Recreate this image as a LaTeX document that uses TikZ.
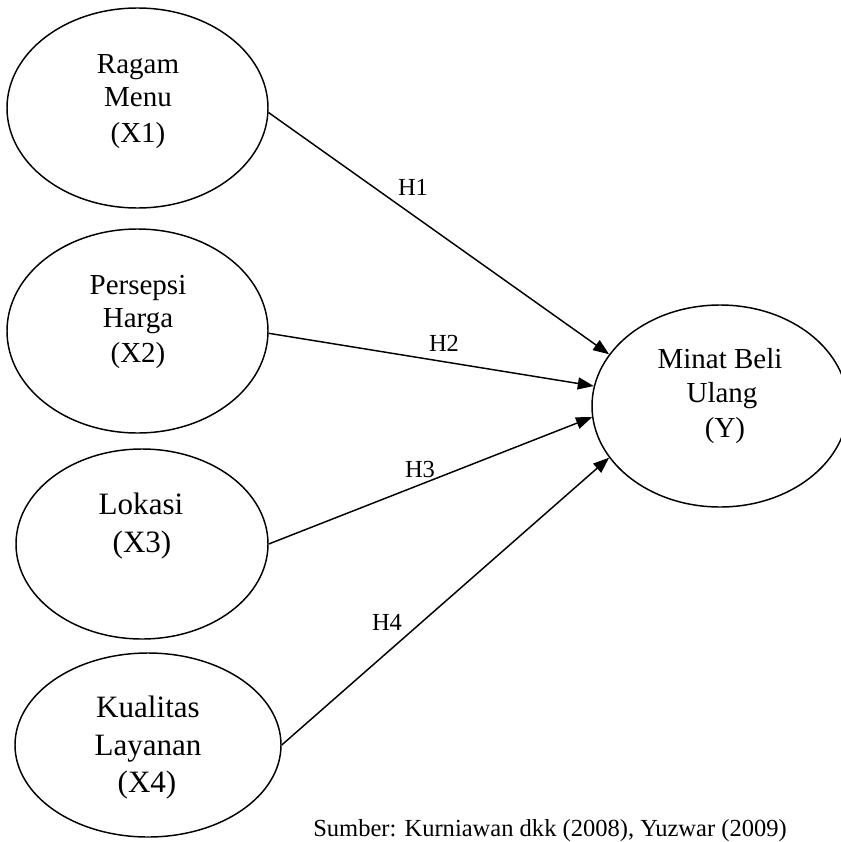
\documentclass[tikz,border=0pt]{standalone}
\usepackage{fontspec}
\setmainfont{Liberation Serif}
\usetikzlibrary{arrows.meta,shapes.geometric}
\begin{document}
\begin{tikzpicture}[x=0.75pt,y=-0.75pt,
  var/.style={draw=black,line width=1.1pt,ellipse,inner sep=0pt},
  txa/.style={anchor=base,inner sep=0pt,font=\fontsize{21.75pt}{26pt}\selectfont},
  txb/.style={anchor=base,inner sep=0pt,font=\fontsize{23.3pt}{28pt}\selectfont},
  hlab/.style={anchor=base,inner sep=0pt,font=\fontsize{18.4pt}{22pt}\selectfont},
  link/.style={line width=1.1pt,-{Triangle[length=12pt,width=9pt]}}]
\useasboundingbox (0,0) rectangle (840,842);
% ellipses
\node[var,minimum width=195.75pt,minimum height=150pt] (X1) at (137.5,108) {};
\node[var,minimum width=195.75pt,minimum height=153pt] (X2) at (137.5,331) {};
\node[var,minimum width=189pt,minimum height=142.5pt] (X3) at (142,544) {};
\node[var,minimum width=199.5pt,minimum height=138pt] (X4) at (148,745) {};
\node[var,minimum width=192pt,minimum height=151.5pt] (Y) at (720,406) {};
% texts
\node[txa] (t1a) at (138,74) {Ragam};
\node[txa] (t1b) at (138,106) {Menu};
\node[txa] (t1c) at (138,142) {(X1)};
\node[txa] (t2a) at (138,294) {Persepsi};
\node[txa] (t2b) at (138,327) {Harga};
\node[txa] (t2c) at (138,362) {(X2)};
\node[txb] (t3a) at (141,514) {Lokasi};
\node[txb] (t3b) at (142,552) {(X3)};
\node[txb] (t4a) at (148,717) {Kualitas};
\node[txb] (t4b) at (148,755) {Layanan};
\node[txb] (t4c) at (147,792) {(X4)};
\node[txa] (tya) at (720,368) {Minat Beli};
\node[txa] (tyb) at (722,402) {Ulang};
\node[txa] (tyc) at (725,437) {(Y)};
% arrows
\draw[link] (X1.-2) -- (Y.155);
\draw[link] (X2.-1) -- (Y.171);
\draw[link] (X3.east) -- (Y.185);
\draw[link] (X4.east) -- (Y.205);
% hypothesis labels
\node[hlab] (h1) at (413,195) {H1};
\node[hlab] (h2) at (444,351) {H2};
\node[hlab] (h3) at (420,477) {H3};
\node[hlab] (h4) at (387,630) {H4};
% source
\node[hlab,anchor=base west] (src) at (313,836) {Sumber: Kurniawan dkk (2008), Yuzwar (2009)};
\end{tikzpicture}
\end{document}
